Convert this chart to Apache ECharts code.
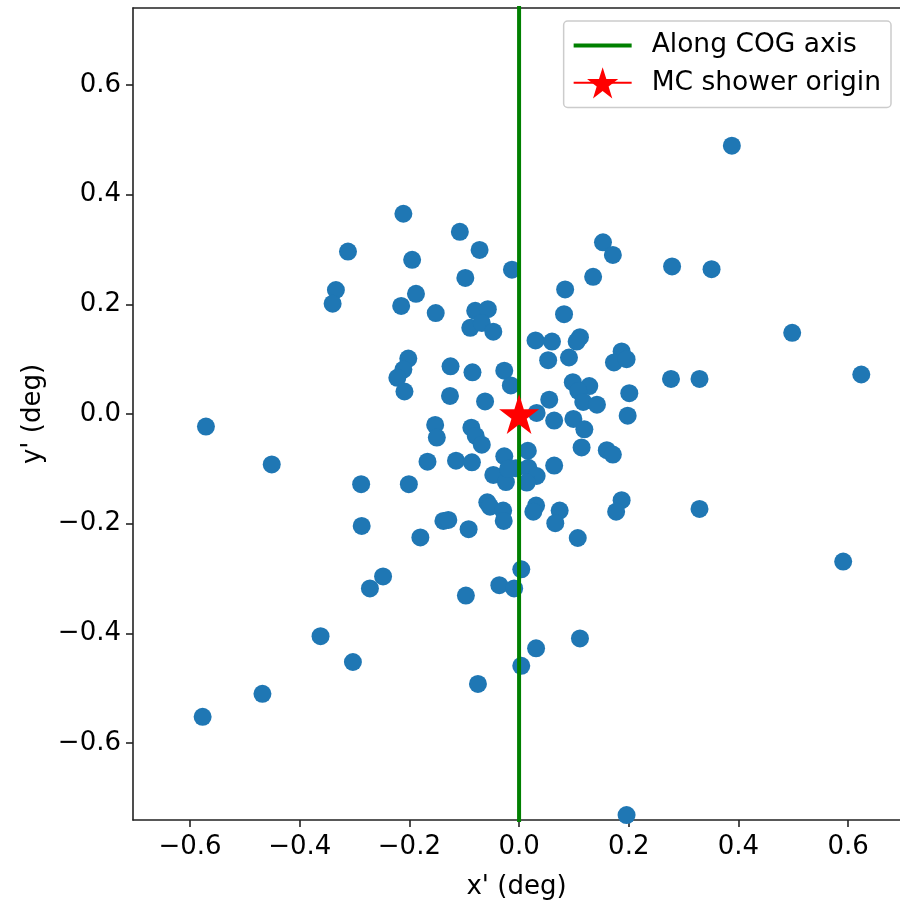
<!DOCTYPE html>
<html>
<head>
<meta charset="utf-8">
<title>COG scatter</title>
<script src="https://cdn.jsdelivr.net/npm/echarts@6/dist/echarts.min.js"></script>
<style>
  html, body { margin: 0; padding: 0; background: #fff; }
  #main { width: 900px; height: 900px; }
</style>
</head>
<body>
<div id="main"></div>
<script>
// event positions x', y' (deg)
const xs = [
  0.388, 0.153, 0.171, 0.279, 0.351, 0.135, -0.013, 0.084, 0.082, 0.498,
  0.030, 0.060, 0.111, 0.105, 0.053, 0.091, 0.187, 0.173, 0.196, 0.277,
  0.329, 0.624, -0.027, -0.015, 0.098, 0.128, 0.108, 0.117, 0.142, 0.201,
  0.055, 0.032, 0.064, 0.099, 0.119, 0.198,
  -0.211, -0.108, -0.312, -0.195, -0.072, -0.098, -0.334, -0.340, -0.188, -0.215,
  -0.152, -0.080, -0.057, -0.089, -0.068, -0.047, -0.202, -0.211, -0.222, -0.209,
  -0.125, -0.085, -0.126, -0.062,
  -0.571, -0.451, -0.153, -0.150, -0.087, -0.079, -0.068, -0.167, -0.115, -0.086,
  -0.027, -0.047, -0.024, -0.006, -0.020, -0.288, -0.201, -0.058, -0.053, -0.029,
  -0.028, -0.287, -0.180, -0.138, -0.129, -0.092, 0.004, -0.248, -0.272, -0.036,
  -0.009, -0.097, -0.362, -0.303, -0.075, 0.004, -0.468, -0.577,
  0.016, 0.114, 0.160, 0.171, 0.064, 0.017, 0.032, 0.014, 0.031, 0.026,
  0.074, 0.066, 0.107, 0.187, 0.177, 0.329, 0.591, 0.111, 0.031, 0.196
];
const ys = [
  0.489, 0.313, 0.290, 0.269, 0.264, 0.250, 0.263, 0.227, 0.182, 0.148,
  0.134, 0.132, 0.140, 0.132, 0.098, 0.103, 0.114, 0.094, 0.100, 0.064,
  0.064, 0.072, 0.079, 0.052, 0.058, 0.051, 0.042, 0.022, 0.017, 0.038,
  0.026, 0.002, -0.012, -0.009, -0.028, -0.003,
  0.365, 0.332, 0.296, 0.281, 0.299, 0.248, 0.226, 0.201, 0.219, 0.197,
  0.184, 0.188, 0.191, 0.157, 0.166, 0.150, 0.101, 0.081, 0.066, 0.041,
  0.087, 0.076, 0.033, 0.023,
  -0.023, -0.092, -0.020, -0.043, -0.025, -0.040, -0.056, -0.087, -0.085, -0.088,
  -0.077, -0.111, -0.124, -0.099, -0.100, -0.128, -0.128, -0.161, -0.169, -0.176,
  -0.195, -0.204, -0.225, -0.195, -0.193, -0.210, -0.283, -0.296, -0.318, -0.312,
  -0.318, -0.331, -0.405, -0.452, -0.492, -0.459, -0.510, -0.552,
  -0.067, -0.061, -0.066, -0.074, -0.094, -0.098, -0.113, -0.125, -0.167, -0.178,
  -0.176, -0.199, -0.226, -0.157, -0.178, -0.173, -0.269, -0.409, -0.427, -0.731
];
// COG axis line (x' = 0) and MC shower origin
const cogX = [0, 0];
const cogY = [-1, 1];
const originX = [0];
const originY = [0];
const tickValues = [-0.6, -0.4, -0.2, 0.0, 0.2, 0.4, 0.6];

const font = 'DejaVu Sans';
const star = 'path://M50,0 L61.2,34.5 L97.6,34.5 L68.2,55.9 L79.4,90.5 L50,69.1 L20.6,90.5 L31.8,55.9 L2.4,34.5 L38.8,34.5 Z';

function fmt(v) {
  const s = Math.abs(v).toFixed(1);
  return v < -1e-9 ? '\u2212' + s : s;
}

const spine = { color: '#222', width: 1.6 };
const axisCommon = {
  type: 'value',
  nameLocation: 'middle',
  nameTextStyle: { fontFamily: font, fontSize: 26, color: '#000' },
  splitLine: { show: false },
  axisLine: { onZero: false, lineStyle: spine },
  axisTick: { length: 7, lineStyle: spine, customValues: tickValues },
  axisLabel: { fontFamily: font, fontSize: 26, color: '#000', formatter: fmt, customValues: tickValues }
};

const chart = echarts.init(document.getElementById('main'));
chart.setOption({
  animation: false,
  grid: { left: 133, right: 0, top: 8, bottom: 80, outerBoundsMode: 'none', containLabel: false },
  xAxis: [
    Object.assign({}, axisCommon, {
      min: -0.704, max: 0.6946, name: "x' (deg)", nameGap: 54,
      axisLabel: Object.assign({}, axisCommon.axisLabel, { margin: 14 })
    }),
    // top spine only
    {
      type: 'value', position: 'top', min: -0.704, max: 0.6946,
      axisLine: { onZero: false, lineStyle: spine },
      axisTick: { show: false }, axisLabel: { show: false }, splitLine: { show: false }
    }
  ],
  yAxis: Object.assign({}, axisCommon, {
    min: -0.74, max: 0.74, name: "y' (deg)", nameGap: 87,
    axisLabel: Object.assign({}, axisCommon.axisLabel, { margin: 12 })
  }),
  legend: {
    right: 9, top: 21,
    orient: 'vertical',
    backgroundColor: '#fff',
    borderColor: '#ccc', borderWidth: 1.5, borderRadius: 4,
    padding: [9, 10, 9, 8],
    itemWidth: 58, itemHeight: 39, itemGap: 6,
    textStyle: { fontFamily: font, fontSize: 26.5, color: '#000', padding: [0, 0, 0, 15] },
    data: [
      { name: 'Along COG axis', itemStyle: { opacity: 0 }, lineStyle: { width: 4 } },
      { name: 'MC shower origin' }
    ]
  },
  series: [
    {
      name: 'events', type: 'scatter', symbolSize: 18, z: 2,
      itemStyle: { color: '#1f77b4', opacity: 1 },
      data: xs.map((x, i) => [x, ys[i]])
    },
    {
      name: 'Along COG axis', type: 'line', symbol: 'none', z: 3,
      lineStyle: { color: '#008000', width: 4 }, itemStyle: { color: '#008000', opacity: 0 },
      data: cogX.map((x, i) => [x, cogY[i]])
    },
    {
      name: 'MC shower origin', type: 'line', symbol: star, symbolSize: 40, z: 4,
      showSymbol: true,
      lineStyle: { color: '#ff0000', width: 2 }, itemStyle: { color: '#ff0000', borderWidth: 0 },
      data: originX.map((x, i) => [x, originY[i]])
    }
  ]
});
</script>
</body>
</html>
